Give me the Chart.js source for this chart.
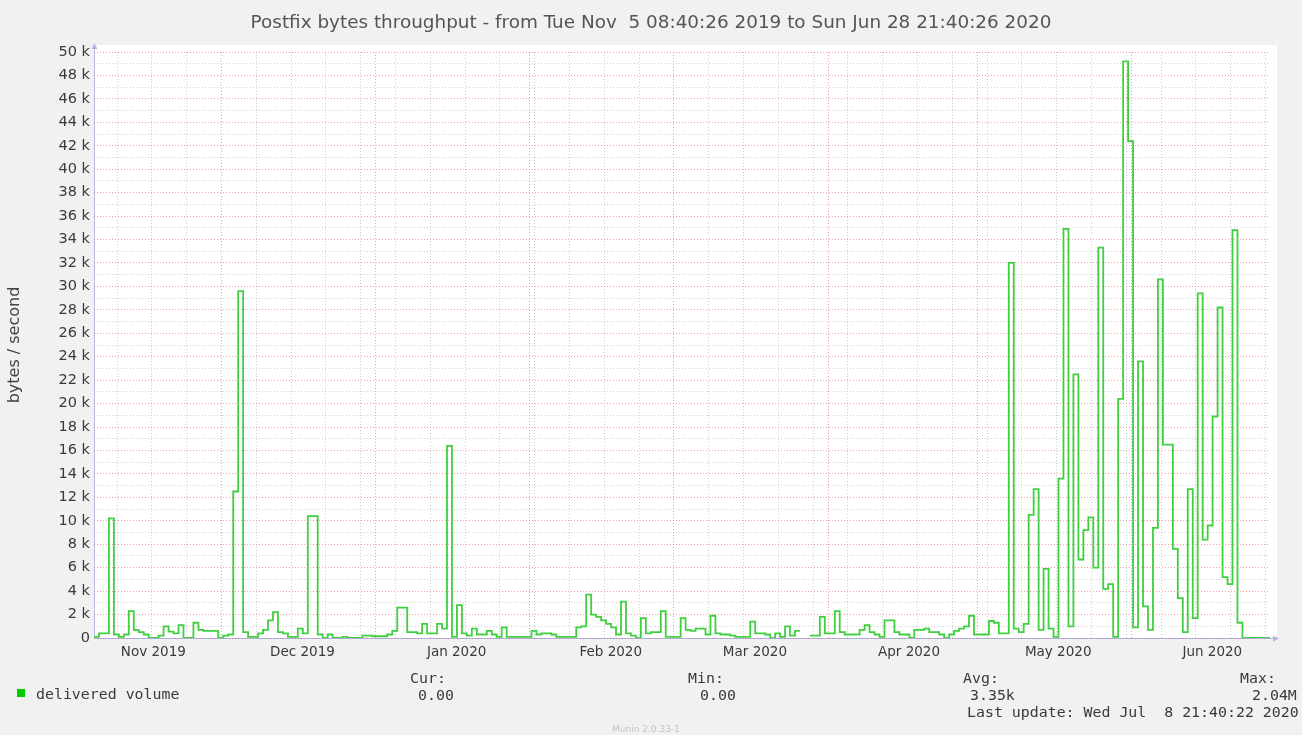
<!DOCTYPE html>
<html>
<head>
<meta charset="utf-8">
<title>Postfix bytes throughput</title>
<script src="https://cdn.jsdelivr.net/npm/chart.js@4.4.1/dist/chart.umd.min.js"></script>
<style>
  html, body { margin: 0; padding: 0; background: #f1f1f1; }
  #wrap { position: relative; width: 1302px; height: 735px; overflow: hidden; }
  #wrap canvas { position: absolute; left: 0; top: 0; }
  .t { position: absolute; white-space: pre; color: #3a3a3a; line-height: 16px; }
  .sans { font-family: 'DejaVu Sans', sans-serif; }
  .mono { font: 14.9px 'DejaVu Sans Mono', monospace; }
  #title { left: 0; width: 1302px; top: 11px; text-align: center; font-size: 18.4px; color: #555; line-height: 22px; }
  #ytitle { left: -56px; top: 336px; width: 140px; text-align: center; font-size: 16px; color: #444;
            line-height: 18px; transform: rotate(-90deg); }
  #swatch { position: absolute; left: 17px; top: 689px; width: 8px; height: 8px; background: #00cc00; }
  #munin { left: 612px; top: 723px; font-size: 9px; color: #c4c4c4; line-height: 12px; }
</style>
</head>
<body>
<div id="wrap">
  <canvas id="chart" width="1302" height="735"></canvas>
  <div id="title" class="t sans">Postfix bytes throughput - from Tue Nov  5 08:40:26 2019 to Sun Jun 28 21:40:26 2020</div>
  <div id="ytitle" class="t sans">bytes / second</div>
  <div id="swatch"></div>
  <div id="legend"></div>
  <div id="munin" class="t sans">Munin 2.0.33-1</div>
</div>
<script>
// time range of the graph
const startTime = Date.UTC(2019, 10, 5, 8, 40, 26);
const endTime   = Date.UTC(2020, 5, 28, 21, 40, 26);
const DAY = 86400000;
const span = (endTime - startTime) / DAY;

// x axis: month labels and month boundaries
const monthLabels = ['Nov 2019', 'Dec 2019', 'Jan 2020', 'Feb 2020', 'Mar 2020', 'Apr 2020', 'May 2020', 'Jun 2020'];
const monthFirst  = [[2019, 10], [2019, 11], [2020, 0], [2020, 1], [2020, 2], [2020, 3], [2020, 4], [2020, 5]];
const firstSunday = [2019, 10, 10];

// y axis ticks (bytes / second)
const yMax = 50000;
const yStep = 1000;

// delivered volume, one value per day from the start (bytes / second)
const delivered = [
  100, 400, 400, 10200, 300, 100, 300, 2300, 700, 500,
  300, 0, 0, 200, 1000, 550, 400, 1100, 0, 0,
  1300, 700, 600, 600, 600, 0, 200, 300, 12500, 29600,
  500, 100, 100, 400, 700, 1500, 2200, 500, 400, 100,
  100, 800, 400, 10400, 10400, 300, 0, 300, 0, 0,
  100, 0, 0, 0, 200, 200, 150, 150, 150, 300,
  600, 2600, 2600, 500, 500, 400, 1200, 400, 400, 1200,
  800, 16400, 100, 2800, 400, 200, 800, 300, 300, 600,
  300, 100, 900, 100, 100, 100, 100, 100, 600, 300,
  400, 400, 300, 100, 100, 100, 100, 900, 1000, 3700,
  2000, 1800, 1500, 1200, 900, 300, 3100, 400, 200, 0,
  1700, 400, 500, 500, 2300, 100, 100, 100, 1700, 700,
  600, 800, 800, 300, 1900, 400, 300, 300, 200, 100,
  100, 100, 1400, 400, 400, 300, 0, 400, 100, 1000,
  200, 600, 600, null, 200, 200, 1800, 400, 400, 2300,
  500, 300, 300, 300, 700, 1100, 500, 300, 100, 1500,
  1500, 500, 300, 300, 0, 700, 700, 800, 500, 500,
  300, 0, 300, 600, 800, 1000, 1900, 300, 300, 300,
  1450, 1300, 400, 400, 32000, 800, 500, 1200, 10500, 12700,
  700, 5900, 800, 100, 13600, 34900, 1000, 22500, 6700, 9200,
  10300, 6000, 33300, 4200, 4600, 100, 20400, 49200, 42400, 900,
  23600, 2700, 700, 9400, 30600, 16500, 16500, 7600, 3400, 500,
  12700, 1700, 29400, 8400, 9600, 18900, 28200, 5200, 4600, 34800,
  1300, 0, 0, 0, 0, 0, 0
];

// footer statistics
const statNames  = ['Cur:', 'Min:', 'Avg:', 'Max:'];
const statValues = ['0.00', '0.00', '3.35k', '2.04M'];
const lastUpdate = 'Last update: Wed Jul  8 21:40:22 2020';

const dayOf = (y, m, d) => (Date.UTC(y, m, d) - startTime) / DAY;

const monthDays = monthFirst.map(([y, m]) => dayOf(y, m, 1)).filter(d => d > 0);
const labelDays = monthFirst.map(([y, m]) => dayOf(y, m, 1) + 16.3);
const weekDays = [];
for (let d = dayOf(...firstSunday); d < span; d += 7) weekDays.push(d);
const isMonth = v => monthDays.some(m => Math.abs(m - v) < 0.01);
const gridDays = weekDays.filter(d => !isMonth(d)).concat(monthDays).sort((a, b) => a - b);
const yTicks = [];
for (let v = 0; v <= yMax; v += yStep) yTicks.push(v);

const points = delivered.map((v, i) => ({ x: i, y: v }));
points.push({ x: span, y: delivered[delivered.length - 1] });

const RED = 'rgba(235, 80, 80, 0.55)';
const GREY = 'rgba(160, 160, 160, 0.5)';
const AXIS = 'rgba(140, 140, 215, 0.6)';
const xFont = { family: 'DejaVu Sans', size: 13.5 };
const yFont = { family: 'DejaVu Sans', size: 14.5 };

// white plot area and the two axes with arrows, like rrdtool
const rrdFrame = {
  id: 'rrdFrame',
  beforeDraw(chart) {
    const a = chart.chartArea, ctx = chart.ctx;
    ctx.save();
    ctx.fillStyle = '#fff';
    ctx.fillRect(a.left, a.top - 7, a.right - a.left + 7, a.bottom - a.top + 7);
    ctx.restore();
  },
  beforeDatasetsDraw(chart) {
    const a = chart.chartArea, ctx = chart.ctx;
    ctx.save();
    ctx.strokeStyle = AXIS;
    ctx.fillStyle = AXIS;
    ctx.lineWidth = 1;
    ctx.beginPath();
    ctx.moveTo(a.left + 0.5, a.bottom + 0.5);
    ctx.lineTo(a.right + 4, a.bottom + 0.5);
    ctx.moveTo(a.left + 0.5, a.bottom + 0.5);
    ctx.lineTo(a.left + 0.5, a.top - 4);
    ctx.stroke();
    ctx.beginPath();
    ctx.moveTo(a.right + 9, a.bottom + 0.5);
    ctx.lineTo(a.right + 3, a.bottom - 2.5);
    ctx.lineTo(a.right + 3, a.bottom + 3.5);
    ctx.closePath();
    ctx.moveTo(a.left + 0.5, a.top - 9);
    ctx.lineTo(a.left - 2.5, a.top - 3);
    ctx.lineTo(a.left + 3.5, a.top - 3);
    ctx.closePath();
    ctx.fill();
    ctx.restore();
  }
};

new Chart(document.getElementById('chart'), {
  type: 'line',
  data: {
    datasets: [{
      label: 'delivered volume',
      data: points,
      borderColor: '#3fcf3f',
      borderWidth: 1.8,
      pointRadius: 0,
      stepped: 'before',
      fill: false,
      spanGaps: false
    }]
  },
  options: {
    responsive: false,
    animation: false,
    layout: { padding: { top: 52, right: 32, left: 0, bottom: 0 } },
    plugins: { legend: { display: false }, tooltip: { enabled: false } },
    scales: {
      x: {
        type: 'linear', position: 'bottom', min: 0, max: span,
        afterBuildTicks: s => { s.ticks = gridDays.map(v => ({ value: v })); },
        ticks: { display: false },
        grid: { color: c => isMonth(c.tick.value) ? RED : GREY, drawTicks: false },
        border: { display: false, dash: [1, 2] },
        afterFit: s => { s.height = 0; }
      },
      xl: {
        type: 'linear', position: 'bottom', min: 0, max: span,
        afterBuildTicks: s => { s.ticks = labelDays.map(v => ({ value: v })); },
        ticks: { autoSkip: false, maxRotation: 0, padding: 6, font: xFont, color: '#3a3a3a',
                 callback: (v, i) => monthLabels[i] },
        grid: { display: false, drawTicks: false },
        border: { display: false },
        afterFit: s => { s.height = 97; }
      },
      y: {
        min: 0, max: yMax,
        afterBuildTicks: s => { s.ticks = yTicks.map(v => ({ value: v })); },
        ticks: { autoSkip: false, padding: 4, font: yFont, color: '#3a3a3a',
                 callback: v => v % 2000 ? '' : (v ? v / 1000 + ' k' : '0') },
        grid: { color: c => c.tick.value % 2000 ? GREY : RED, drawTicks: false },
        border: { display: false, dash: [1, 2] },
        afterFit: s => { s.width = 94; }
      }
    }
  },
  plugins: [rrdFrame]
});

// footer legend
const legend = document.getElementById('legend');
const statX = [[410, 418], [688, 700], [963, 970], [1240, 1252]];
let html = '<div class="t mono" style="left:36px;top:685px">delivered volume</div>';
statNames.forEach((n, i) => {
  html += `<div class="t mono" style="left:${statX[i][0]}px;top:669px">${n}</div>`;
  html += `<div class="t mono" style="left:${statX[i][1]}px;top:686px">${statValues[i]}</div>`;
});
html += `<div class="t mono" style="left:967px;top:703px">${lastUpdate}</div>`;
legend.innerHTML = html;
</script>
</body>
</html>
